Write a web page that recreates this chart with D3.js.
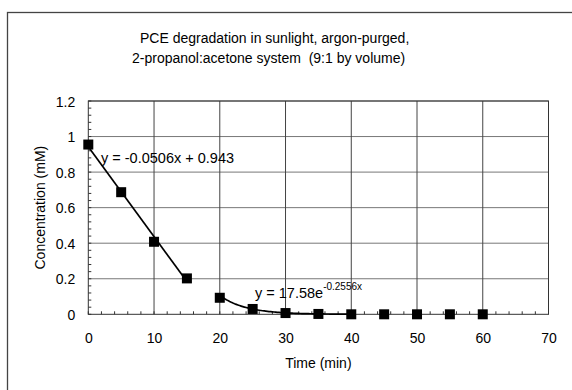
<!DOCTYPE html>
<html><head><meta charset="utf-8">
<script src="https://cdn.jsdelivr.net/npm/d3@7"></script>
<style>body{margin:0;background:#fff}svg{display:block}text{font-family:Arial,"Liberation Sans",sans-serif;fill:#000;white-space:pre}</style>
</head><body>
<script>
const titleLines = ["PCE degradation in sunlight, argon-purged,", "2-propanol:acetone system  (9:1 by volume)"];
const times = [0, 5, 10, 15, 20, 25, 30, 35, 40, 45, 50, 55, 60];
const conc = [0.955, 0.687, 0.408, 0.202, 0.093, 0.030, 0.007, 0.002, 0, 0, 0, 0, 0];
const xTicks = [0, 10, 20, 30, 40, 50, 60, 70];
const yTicks = [0, 0.2, 0.4, 0.6, 0.8, 1, 1.2];
const linFit = {slope: -0.0506, intercept: 0.943, from: 0, to: 15};
const expFit = {a: 17.58, b: -0.2556, from: 20, to: 40};
const xLabel = "Time (min)";
const yLabel = "Concentration (mM)";

const W = 572, H = 390;
const svg = d3.select("body").append("svg").attr("width", W).attr("height", H);
// outer frame
svg.append("rect").attr("x", 7.5).attr("y", 12.5).attr("width", 600).attr("height", 420)
  .attr("fill", "none").attr("stroke", "#444").attr("stroke-width", 1.3);

const L = 88.3, R = 548.5, T = 101, B = 314.3;
const x = d3.scaleLinear().domain([0, 70]).range([L, R]);
const y = d3.scaleLinear().domain([0, 1.2]).range([B, T]);

// horizontal gridlines
svg.append("g").selectAll("line").data(yTicks.slice(1)).join("line")
  .attr("x1", L).attr("x2", R).attr("y1", d => y(d)).attr("y2", d => y(d))
  .attr("stroke", "#777").attr("stroke-width", 1);
// vertical gridlines
svg.append("g").selectAll("line").data(xTicks.slice(1, -1)).join("line")
  .attr("y1", T).attr("y2", B).attr("x1", d => x(d)).attr("x2", d => x(d))
  .attr("stroke", "#444").attr("stroke-width", 1);
// plot border
svg.append("rect").attr("x", L).attr("y", T).attr("width", R - L).attr("height", B - T)
  .attr("fill", "none").attr("stroke", "#333").attr("stroke-width", 1);

// minor ticks
const xMinor = d3.range(0, 70.01, 2);
svg.append("g").selectAll("line").data(xMinor).join("line")
  .attr("x1", d => x(d)).attr("x2", d => x(d)).attr("y1", B).attr("y2", B - 3)
  .attr("stroke", "#333");
const yMinor = d3.range(0, 1.2001, 0.04);
svg.append("g").selectAll("line").data(yMinor).join("line")
  .attr("x1", L).attr("x2", L + 3).attr("y1", d => y(d)).attr("y2", d => y(d))
  .attr("stroke", "#333");

// axes labels
const xAxis = d3.axisBottom(x).tickValues(xTicks).tickSize(0).tickPadding(0).tickFormat(d3.format("d"));
const gx = svg.append("g").attr("transform", `translate(0,${B})`).call(xAxis);
gx.select(".domain").remove();
gx.selectAll("text").attr("font-size", 14).attr("dy", null).attr("y", 29).attr("fill", "#000");
const yAxis = d3.axisLeft(y).tickValues(yTicks).tickSize(0).tickPadding(13).tickFormat(d => String(+d.toFixed(1)));
const gy = svg.append("g").attr("transform", `translate(${L},0)`).call(yAxis);
gy.select(".domain").remove();
gy.selectAll("text").attr("font-size", 14).attr("dy", "0.36em").attr("fill", "#000");

// trendlines
const lin = d3.line().x(d => x(d)).y(d => y(linFit.slope * d + linFit.intercept));
svg.append("path").attr("d", lin([linFit.from, linFit.to]))
  .attr("fill", "none").attr("stroke", "#000").attr("stroke-width", 1.7);
const expX = d3.range(expFit.from, expFit.to + 0.001, 0.25);
const ex = d3.line().x(d => x(d)).y(d => y(expFit.a * Math.exp(expFit.b * d)));
svg.append("path").attr("d", ex(expX))
  .attr("fill", "none").attr("stroke", "#000").attr("stroke-width", 1.7);

// markers
const s = 10;
svg.append("g").selectAll("rect").data(times.map((t, i) => [t, conc[i]])).join("rect")
  .attr("x", d => x(d[0]) - s / 2).attr("y", d => y(d[1]) - s / 2)
  .attr("width", s).attr("height", s).attr("fill", "#000");

// equations
svg.append("text").attr("x", 101).attr("y", 163).attr("font-size", 14.5)
  .text(`y = ${linFit.slope}x + ${linFit.intercept}`);
const et = svg.append("text").attr("x", 255).attr("y", 298).attr("font-size", 14.5);
et.append("tspan").text(`y = ${expFit.a}e`);
et.append("tspan").attr("font-size", 10).attr("dy", -8).text(`${expFit.b}x`);

// titles
svg.append("text").attr("x", 140).attr("y", 43).attr("font-size", 14).text(titleLines[0]);
svg.append("text").attr("x", 132).attr("y", 63).attr("font-size", 14).text(titleLines[1]);
svg.append("text").attr("x", (L + R) / 2).attr("y", 368).attr("font-size", 14)
  .attr("text-anchor", "middle").text(xLabel);
svg.append("text").attr("transform", `translate(45,${(T + B) / 2}) rotate(-90)`)
  .attr("font-size", 14).attr("text-anchor", "middle").text(yLabel);
</script>
</body></html>
